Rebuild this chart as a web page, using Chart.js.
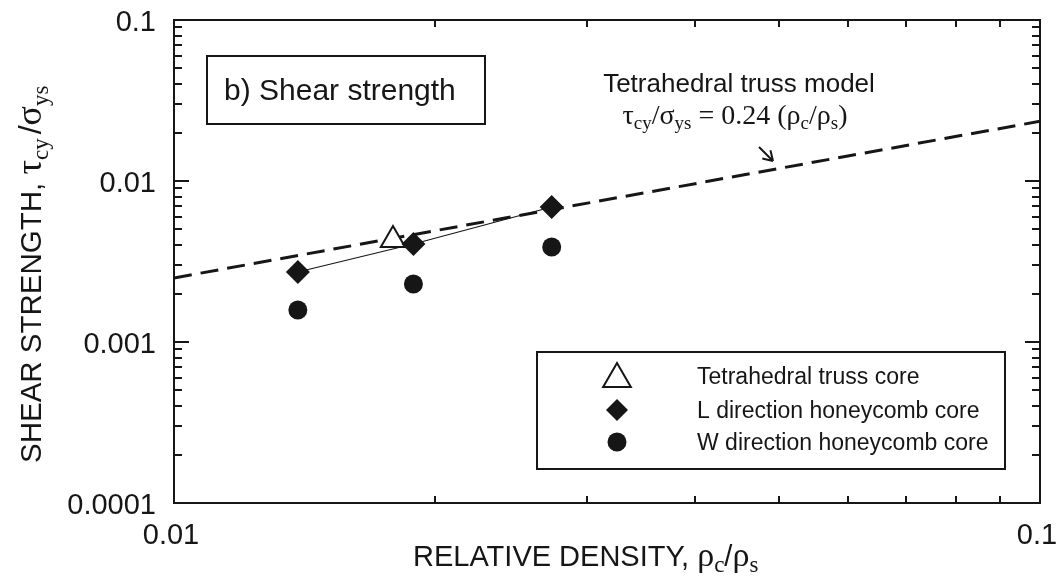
<!DOCTYPE html>
<html><head><meta charset="utf-8">
<script src="https://cdn.jsdelivr.net/npm/chart.js@4.4.1/dist/chart.umd.min.js"></script>
<style>html,body{margin:0;padding:0;background:#fff;}canvas{display:block;}</style>
</head><body>
<canvas id="c" width="1061" height="579"></canvas>
<script>
// ---- data ----
const xModel = [0.01, 0.1];
const yModel = [0.0025, 0.0235];
const xTruss = [0.0179];
const yTruss = [0.0043];
const xL = [0.0139, 0.0189, 0.0273];
const yL = [0.00272, 0.00406, 0.0069];
const xW = [0.0139, 0.0189, 0.0273];
const yW = [0.00158, 0.00229, 0.00389];
const xTickValues = [0.01, 0.1];
const xTickLabels = ['0.01', '0.1'];
const yTickValues = [0.0001, 0.001, 0.01, 0.1];
const yTickLabels = ['0.0001', '0.001', '0.01', '0.1'];
const legendLabels = ['Tetrahedral truss core', 'L direction honeycomb core', 'W direction honeycomb core'];
const insetTitle = 'b) Shear strength';
const modelLabel = 'Tetrahedral truss model';

const SANS = '"Liberation Sans", Arial, Helvetica, sans-serif';
const SERIF = '"Liberation Serif", "Times New Roman", serif';
const INK = '#161616';

const zip = (xs, ys) => xs.map((x, i) => ({x, y: ys[i]}));

function richWidth(ctx, parts) {
  let w = 0;
  for (const p of parts) { ctx.font = p.font; w += ctx.measureText(p.t).width + (p.gap || 0); }
  return w;
}
function drawRich(ctx, parts, x, y) {
  for (const p of parts) {
    ctx.font = p.font;
    ctx.fillText(p.t, x, y + (p.dy || 0));
    x += ctx.measureText(p.t).width + (p.gap || 0);
  }
}

function minorValues(decades) {
  const out = [];
  for (let i = 0; i < decades.length - 1; i++) {
    for (let m = 2; m <= 9; m++) out.push(decades[i] * m);
  }
  return out;
}

const framePlugin = {
  id: 'frameTicks',
  afterDatasetsDraw(chart) {
    const {ctx, chartArea: a, scales} = chart;
    ctx.save();
    ctx.strokeStyle = INK;
    ctx.lineWidth = 2;
    ctx.strokeRect(a.left, a.top, a.right - a.left, a.bottom - a.top);
    ctx.beginPath();
    yTickValues.forEach(v => {
      const p = Math.round(scales.y.getPixelForValue(v));
      ctx.moveTo(a.left, p); ctx.lineTo(a.left + 15, p);
      ctx.moveTo(a.right, p); ctx.lineTo(a.right - 15, p);
    });
    minorValues(yTickValues).forEach(v => {
      const p = Math.round(scales.y.getPixelForValue(v));
      ctx.moveTo(a.left, p); ctx.lineTo(a.left + 8, p);
      ctx.moveTo(a.right, p); ctx.lineTo(a.right - 8, p);
    });
    xTickValues.forEach(v => {
      const p = Math.round(scales.x.getPixelForValue(v));
      ctx.moveTo(p, a.bottom); ctx.lineTo(p, a.bottom - 15);
      ctx.moveTo(p, a.top); ctx.lineTo(p, a.top + 15);
    });
    minorValues(xTickValues).forEach(v => {
      const p = Math.round(scales.x.getPixelForValue(v));
      ctx.moveTo(p, a.bottom); ctx.lineTo(p, a.bottom - 7);
      ctx.moveTo(p, a.top); ctx.lineTo(p, a.top + 7);
    });
    ctx.stroke();
    ctx.restore();
  },
  afterDraw(chart) {
    const {ctx, chartArea: a} = chart;
    ctx.save();
    ctx.fillStyle = INK;
    ctx.strokeStyle = INK;
    ctx.textBaseline = 'alphabetic';
    ctx.textAlign = 'left';

    // Y axis title (rotated)
    const yParts = [
      {t: 'SHEAR STRENGTH, ', font: `29.5px ${SANS}`},
      {t: 'τ', font: `36px ${SERIF}`},
      {t: 'cy', font: `23px ${SERIF}`, dy: 7, gap: 4},
      {t: '/', font: `32px ${SANS}`},
      {t: 'σ', font: `36px ${SERIF}`},
      {t: 'ys', font: `23px ${SERIF}`, dy: 7}
    ];
    ctx.save();
    ctx.translate(41, 463);
    ctx.rotate(-Math.PI / 2);
    drawRich(ctx, yParts, 0, 0);
    ctx.restore();

    // X axis title
    const xParts = [
      {t: 'RELATIVE DENSITY, ', font: `29px ${SANS}`},
      {t: 'ρ', font: `34px ${SERIF}`},
      {t: 'c', font: `23px ${SERIF}`, dy: 6},
      {t: '/', font: `29px ${SANS}`},
      {t: 'ρ', font: `34px ${SERIF}`},
      {t: 's', font: `23px ${SERIF}`, dy: 6}
    ];
    drawRich(ctx, xParts, 413, 566);

    // inset title box
    ctx.lineWidth = 2;
    ctx.strokeRect(207, 56, 278, 68);
    ctx.font = `30px ${SANS}`;
    ctx.fillText(insetTitle, 224, 100);

    // model annotation
    ctx.font = `26px ${SANS}`;
    ctx.textAlign = 'center';
    ctx.fillText(modelLabel, 739, 92);
    ctx.textAlign = 'left';
    const eq = [
      {t: 'τ', font: `28px ${SERIF}`},
      {t: 'cy', font: `19px ${SERIF}`, dy: 5},
      {t: '/σ', font: `28px ${SERIF}`},
      {t: 'ys', font: `19px ${SERIF}`, dy: 5},
      {t: ' = 0.24 (ρ', font: `28px ${SERIF}`},
      {t: 'c', font: `19px ${SERIF}`, dy: 5},
      {t: '/ρ', font: `28px ${SERIF}`},
      {t: 's', font: `19px ${SERIF}`, dy: 5},
      {t: ')', font: `28px ${SERIF}`}
    ];
    const ew = richWidth(ctx, eq);
    drawRich(ctx, eq, 735 - ew / 2, 124);

    // arrow
    ctx.lineWidth = 2;
    ctx.beginPath();
    const x0 = 759, y0 = 147, x1 = 773, y1 = 161;
    ctx.moveTo(x0, y0); ctx.lineTo(x1, y1);
    const ang = Math.atan2(y1 - y0, x1 - x0);
    const hl = 11;
    ctx.moveTo(x1, y1); ctx.lineTo(x1 - hl * Math.cos(ang - 0.55), y1 - hl * Math.sin(ang - 0.55));
    ctx.moveTo(x1, y1); ctx.lineTo(x1 - hl * Math.cos(ang + 0.55), y1 - hl * Math.sin(ang + 0.55));
    ctx.stroke();

    // legend box
    ctx.lineWidth = 2;
    ctx.strokeRect(537, 352, 468, 117);
    const mx = 617;
    ctx.beginPath();
    const tr = 16, ty = 379;
    ctx.moveTo(mx, ty - tr);
    ctx.lineTo(mx + tr * Math.sin(2 * Math.PI / 3), ty - tr * Math.cos(2 * Math.PI / 3));
    ctx.lineTo(mx + tr * Math.sin(4 * Math.PI / 3), ty - tr * Math.cos(4 * Math.PI / 3));
    ctx.closePath();
    ctx.fillStyle = '#fff'; ctx.fill();
    ctx.lineWidth = 2; ctx.stroke();
    ctx.fillStyle = INK;
    ctx.beginPath();
    const dr = 11, dy = 410;
    ctx.moveTo(mx, dy - dr); ctx.lineTo(mx + dr, dy); ctx.lineTo(mx, dy + dr); ctx.lineTo(mx - dr, dy);
    ctx.closePath(); ctx.fill();
    ctx.beginPath();
    ctx.arc(mx, 442, 9.5, 0, Math.PI * 2); ctx.fill();
    ctx.font = `23px ${SANS}`;
    ctx.fillText(legendLabels[0], 697, 384);
    ctx.fillText(legendLabels[1], 697, 418);
    ctx.fillText(legendLabels[2], 697, 450);
    ctx.restore();
  }
};

new Chart(document.getElementById('c'), {
  type: 'scatter',
  data: {
    datasets: [
      {
        label: legendLabels[1],
        data: zip(xL, yL),
        showLine: true,
        borderColor: INK,
        borderWidth: 1.1,
        backgroundColor: INK,
        pointStyle: 'rectRot',
        pointRadius: 12,
        pointBorderWidth: 0
      },
      {
        label: legendLabels[0],
        data: zip(xTruss, yTruss),
        showLine: false,
        borderColor: INK,
        backgroundColor: '#fff',
        pointStyle: 'triangle',
        pointRadius: 14,
        pointBorderWidth: 2
      },
      {
        label: legendLabels[2],
        data: zip(xW, yW),
        showLine: false,
        borderColor: INK,
        backgroundColor: INK,
        pointStyle: 'circle',
        pointRadius: 9.5,
        pointBorderWidth: 0
      },
      {
        label: modelLabel,
        data: zip(xModel, yModel),
        showLine: true,
        borderColor: INK,
        borderWidth: 3,
        borderDash: [18, 9],
        pointRadius: 0,
        fill: false
      }
    ]
  },
  options: {
    responsive: false,
    animation: false,
    devicePixelRatio: 1,
    layout: {padding: {left: 0, right: 21, top: 20, bottom: 0}},
    plugins: {legend: {display: false}, tooltip: {enabled: false}},
    scales: {
      x: {
        type: 'logarithmic',
        position: 'bottom',
        min: 0.01, max: 0.1,
        afterBuildTicks: s => { s.ticks = xTickValues.map(v => ({value: v})); },
        afterFit: s => { s.height = 76; s.paddingLeft = 0; s.paddingRight = 0; },
        grid: {display: false, drawTicks: false},
        border: {display: false},
        ticks: {
          autoSkip: false, maxRotation: 0, padding: 16, labelOffset: -3, color: INK,
          font: {family: SANS, size: 29},
          callback: (v, i) => xTickLabels[i]
        }
      },
      y: {
        type: 'logarithmic',
        position: 'left',
        min: 0.0001, max: 0.1,
        afterBuildTicks: s => { s.ticks = yTickValues.map(v => ({value: v})); },
        afterFit: s => { s.width = 174; s.paddingTop = 0; s.paddingBottom = 0; },
        grid: {display: false, drawTicks: false},
        border: {display: false},
        ticks: {
          autoSkip: false, padding: 18, labelOffset: 3, color: INK,
          font: {family: SANS, size: 29},
          callback: (v, i) => yTickLabels[i]
        }
      }
    }
  },
  plugins: [framePlugin]
});
</script>
</body></html>
